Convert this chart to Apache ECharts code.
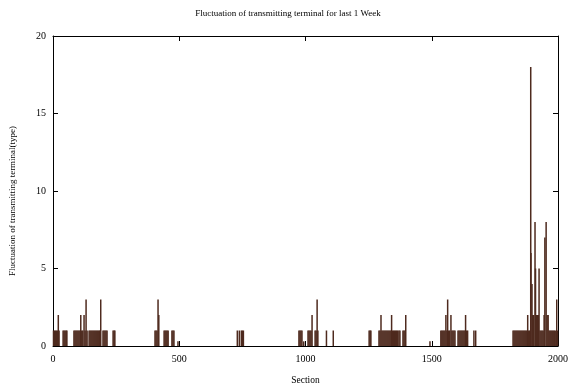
<!DOCTYPE html>
<html>
<head>
<meta charset="utf-8">
<script src="https://cdn.jsdelivr.net/npm/echarts@6/dist/echarts.min.js"></script>
<style>
  html, body { margin: 0; padding: 0; background: #fff; }
  #chart { width: 576px; height: 390px; }
</style>
</head>
<body>
<div id="chart"></div>
<script>
// section numbers and the fluctuation count at each
const sections = [
  2, 6, 10, 14, 18, 21, 24,
  40, 44, 48, 52, 55,
  83, 87, 91, 95, 99, 103, 107, 110, 114, 118, 123, 127, 131, 135,
  143, 147, 151, 155, 159, 163, 167, 171, 175, 179, 183, 186, 189,
  198, 202, 206, 210, 214,
  238, 242, 245,
  404, 408, 412, 416, 419,
  440, 444, 448, 452, 456,
  471, 475, 479,
  495,
  730, 738, 746, 750, 754,
  974, 978, 982, 986, 993,
  1010, 1014, 1018, 1022, 1026,
  1038, 1042, 1046, 1049,
  1083, 1110,
  1252, 1256, 1259,
  1291, 1295, 1299, 1303, 1307, 1311, 1315, 1319, 1323, 1327, 1331, 1335, 1339, 1341,
  1345, 1349, 1353, 1357, 1361, 1365, 1370, 1374,
  1386, 1390, 1394, 1397,
  1493,
  1536, 1540, 1544, 1548, 1552, 1556, 1560, 1563, 1567, 1571, 1576, 1580, 1584, 1588, 1592,
  1604, 1608, 1612, 1616, 1620, 1624, 1628, 1632, 1634, 1638, 1642,
  1667, 1674,
  1822, 1826, 1830, 1834, 1838, 1842, 1846, 1850, 1854, 1858, 1862, 1866, 1870, 1874,
  1878, 1880, 1884, 1888, 1892, 1893, 1897, 1900, 1904, 1909, 1911, 1915, 1919, 1922,
  1925, 1929, 1933, 1937, 1941, 1945, 1948, 1953, 1957, 1961, 1965, 1969, 1973, 1977,
  1981, 1985, 1989, 1995, 1999
];
const fluctuation = [
  1, 1, 1, 1, 1, 2, 1,
  1, 1, 1, 1, 1,
  1, 1, 1, 1, 1, 1, 1, 2, 1, 1, 2, 1, 3, 1,
  1, 1, 1, 1, 1, 1, 1, 1, 1, 1, 1, 1, 3,
  1, 1, 1, 1, 1,
  1, 1, 1,
  1, 1, 1, 3, 2,
  1, 1, 1, 1, 1,
  1, 1, 1,
  0.3,
  1, 1, 1, 1, 1,
  1, 1, 1, 1, 0.3,
  1, 1, 1, 1, 2,
  1, 1, 3, 1,
  1, 1,
  1, 1, 1,
  1, 1, 2, 1, 1, 1, 1, 1, 1, 1, 1, 1, 1, 2,
  1, 1, 1, 1, 1, 1, 1, 1,
  1, 1, 1, 2,
  0.3,
  1, 1, 1, 1, 1, 2, 1, 3, 1, 1, 2, 1, 1, 1, 1,
  1, 1, 1, 1, 1, 1, 1, 1, 2, 1, 1,
  1, 1,
  1, 1, 1, 1, 1, 1, 1, 1, 1, 1, 1, 1, 1, 1,
  1, 2, 1, 1, 18, 6, 4, 2, 2, 8, 5, 2, 2, 2,
  5, 1, 1, 1, 1, 2, 7, 8, 2, 2, 1, 1, 1, 1,
  1, 1, 1, 3, 1
];
const xTicks = [0, 500, 1000, 1500, 2000];
const yTicks = [0, 5, 10, 15, 20];

const font = 'Liberation Serif';
const chart = echarts.init(document.getElementById('chart'));

const axisLine = { show: true, onZero: false, lineStyle: { color: '#000', width: 1 } };
const tick = { show: true, inside: true, length: 5, lineStyle: { color: '#000' } };

chart.setOption({
  animation: false,
  backgroundColor: '#fff',
  title: {
    text: 'Fluctuation of transmitting terminal for last 1 Week',
    left: 'center',
    top: 4,
    textStyle: { fontFamily: font, fontSize: 9, fontWeight: 'normal', color: '#000' }
  },
  grid: { left: 53, right: 18, top: 36, bottom: 41 },
  xAxis: [
    {
      type: 'value',
      min: xTicks[0],
      max: xTicks[xTicks.length - 1],
      interval: 500,
      name: 'Section',
      nameLocation: 'middle',
      nameGap: 29,
      nameTextStyle: { fontFamily: font, fontSize: 9.5, color: '#000' },
      axisLine: axisLine,
      axisTick: tick,
      axisLabel: { fontFamily: font, fontSize: 10, color: '#000', margin: 8, formatter: v => String(v) },
      splitLine: { show: false }
    },
    {
      type: 'value',
      position: 'top',
      min: xTicks[0],
      max: xTicks[xTicks.length - 1],
      interval: 500,
      axisLine: axisLine,
      axisTick: tick,
      axisLabel: { show: false },
      splitLine: { show: false }
    }
  ],
  yAxis: [
    {
      type: 'value',
      min: yTicks[0],
      max: yTicks[yTicks.length - 1],
      interval: 5,
      name: 'Fluctuation of transmitting terminal(type)',
      nameLocation: 'middle',
      nameGap: 36,
      // right padding of the rotated name nudges it a little down
      nameTextStyle: { fontFamily: font, fontSize: 9, color: '#000', padding: [0, 20, 0, 0] },
      axisLine: axisLine,
      axisTick: tick,
      axisLabel: { fontFamily: font, fontSize: 10, color: '#000', margin: 7 },
      splitLine: { show: false }
    },
    {
      type: 'value',
      position: 'right',
      min: yTicks[0],
      max: yTicks[yTicks.length - 1],
      interval: 5,
      axisLine: axisLine,
      axisTick: tick,
      axisLabel: { show: false },
      splitLine: { show: false }
    }
  ],
  series: [
    {
      type: 'bar',
      xAxisIndex: 0,
      yAxisIndex: 0,
      barWidth: 1.5,
      itemStyle: { color: '#4e2a1e' },
      data: sections.map((s, i) => [s, fluctuation[i]])
    }
  ]
});
</script>
</body>
</html>
